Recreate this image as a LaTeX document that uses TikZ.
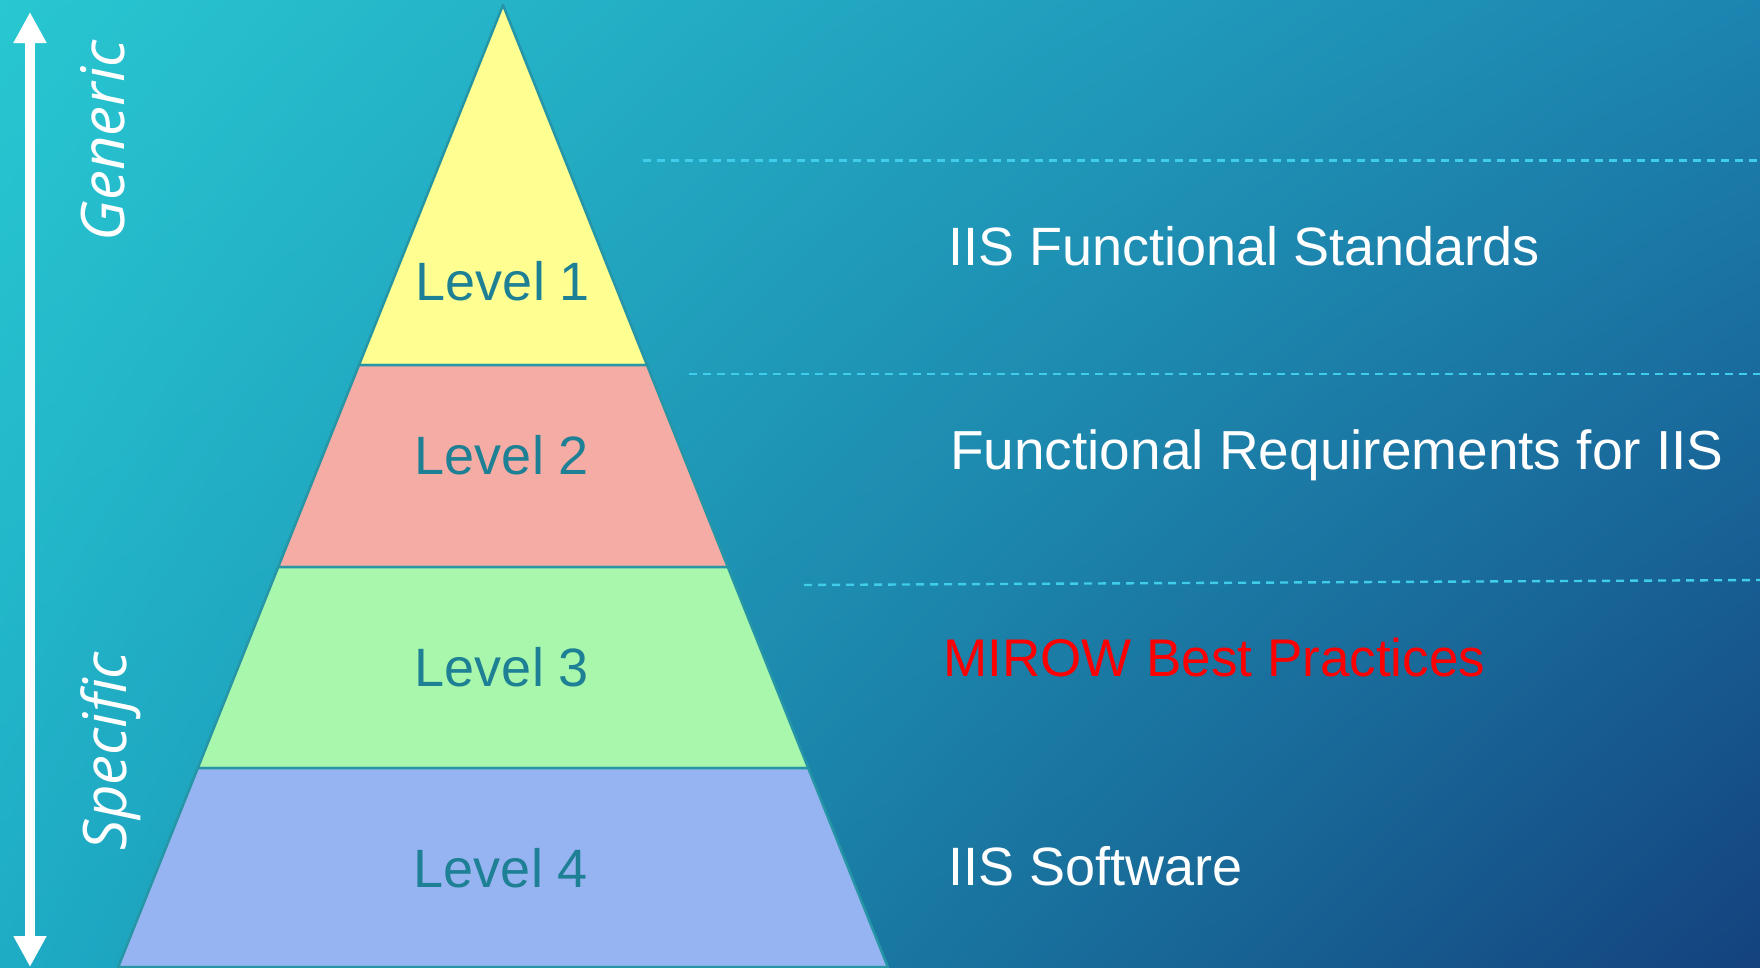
\documentclass[tikz,border=0pt]{standalone}
\usepackage{fontspec}
\setmainfont{Liberation Sans}
\newfontfamily\sidefont{Open Sans}
\usepackage{tikz}
\usetikzlibrary{arrows.meta,positioning,shadings}
\definecolor{bgul}{RGB}{40,199,209}
\definecolor{bgur}{RGB}{28,132,176}
\definecolor{bgll}{RGB}{30,172,197}
\definecolor{bglr}{RGB}{20,66,126}
\definecolor{lvone}{RGB}{255,255,145}
\definecolor{lvtwo}{RGB}{245,172,165}
\definecolor{lvthree}{RGB}{168,247,172}
\definecolor{lvfour}{RGB}{150,180,242}
\definecolor{edgecol}{RGB}{38,150,166}
\definecolor{lvink}{RGB}{30,128,148}
\definecolor{guidecol}{RGB}{64,205,236}
\tikzstyle{band} = [draw=edgecol, line width=2.5pt, line join=round]
\tikzstyle{lvtext} = [text=lvink, font=\fontsize{54}{60}\selectfont, anchor=base, inner sep=0pt]
\tikzstyle{righttext} = [text=white, font=\fontsize{54}{60}\selectfont, anchor=base west, inner sep=0pt]
\tikzstyle{sidetext} = [text=white, font=\sidefont\itshape\fontsize{60}{66}\selectfont, rotate=90, anchor=base, inner sep=0pt]
\tikzstyle{updown} = [white, line width=10pt, {Triangle[width=31pt,length=31pt]}-{Triangle[width=31pt,length=31pt]}]
\tikzstyle{dashline} = [guidecol, line width=2.4pt, dash pattern=on 8pt off 6pt]

\begin{document}
\begin{tikzpicture}[x=1pt,y=-1pt]
    \useasboundingbox (0,0) rectangle (1760,967);
    % background
    \shade[upper left=bgul, upper right=bgur, lower left=bgll, lower right=bglr] (0,0) rectangle (1760,967);
    % pyramid
    \foreach \ytop/\ybot/\col in {5/365/lvone,365/567/lvtwo,567/768/lvthree,768/967/lvfour}{
        \pgfmathsetmacro{\wt}{0.4*(\ytop-5)}
        \pgfmathsetmacro{\wb}{0.4*(\ybot-5)}
        \draw[band, fill=\col] (503-\wt,\ytop) -- (503+\wt,\ytop) -- (503+\wb,\ybot) -- (503-\wb,\ybot) -- cycle;
    }
    \node[lvtext] (lv1) at (503,300) {Level 1};
    \node[lvtext] (lv2) at (502,474) {Level 2};
    \node[lvtext] (lv3) at (502,686) {Level 3};
    \node[lvtext] (lv4) at (501,887) {Level 4};
    % dashed separators
    \foreach \xa/\ya/\yb in {643/160.5/160.5, 689/374/374, 804/585/580}{
        \draw[dashline] (\xa,\ya) -- (1760,\yb);
    }
    % labels on the right
    \node[righttext] (std) at (948,265) {IIS Functional Standards};
    \node[righttext, font=\fontsize{55}{60}\selectfont] (req) at (950,469) {Functional Requirements for IIS};
    \node[righttext, text=red, font=\fontsize{53}{60}\selectfont] (mirow) at (943,676) {MIROW Best Practices};
    \node[righttext] (soft) at (948,885) {IIS Software};
    % generic - specific axis
    \coordinate (hi) at (30,12);
    \coordinate (lo) at (30,967);
    \draw[updown] (lo) -- (hi);
    \node[sidetext] (gen) at (124,141) {Generic};
    \node[sidetext] (spec) at (126,751) {Specific};
\end{tikzpicture}
\end{document}
